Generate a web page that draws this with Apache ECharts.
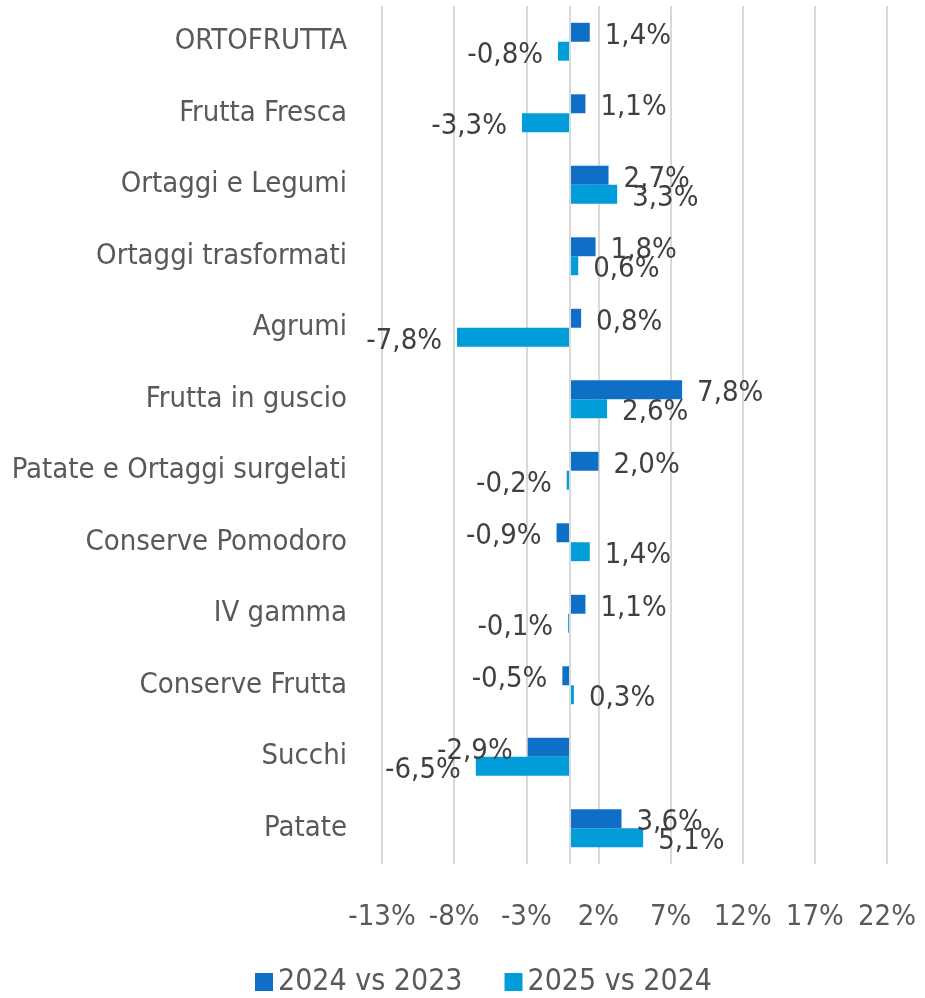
<!DOCTYPE html>
<html>
<head>
<meta charset="utf-8">
<script src="https://cdn.jsdelivr.net/npm/echarts@6/dist/echarts.min.js"></script>
<style>
  html, body { margin: 0; padding: 0; background: #fff; }
  #main { width: 925px; height: 998px; }
</style>
</head>
<body>
<div id="main"></div>
<script>
  // categorie (dall'alto in basso)
  var categories = ['ORTOFRUTTA', 'Frutta Fresca', 'Ortaggi e Legumi', 'Ortaggi trasformati', 'Agrumi',
    'Frutta in guscio', 'Patate e Ortaggi surgelati', 'Conserve Pomodoro', 'IV gamma', 'Conserve Frutta',
    'Succhi', 'Patate'];
  // variazioni %
  var var2024 = [1.4, 1.1, 2.7, 1.8, 0.8, 7.8, 2.0, -0.9, 1.1, -0.5, -2.9, 3.6];
  var var2025 = [-0.8, -3.3, 3.3, 0.6, -7.8, 2.6, -0.2, 1.4, -0.1, 0.3, -6.5, 5.1];
  var seriesNames = ['2024 vs 2023', '2025 vs 2024'];

  var FONT = "'Liberation Sans Narrow', 'Arial Narrow', 'DejaVu Sans Condensed', sans-serif";

  function fmt(v) {
    return v.toFixed(1).replace('.', ',') + '%';
  }
  // etichetta a destra per valori positivi, a sinistra per i negativi
  function toItems(arr) {
    return arr.map(function (v) {
      return { value: v, label: { position: v < 0 ? 'left' : 'right' } };
    });
  }

  var labelStyle = {
    show: true,
    distance: 15,
    offset: [0, 4],
    color: '#404040',
    fontFamily: FONT,
    fontSize: 29,
    formatter: function (p) { return fmt(p.value); }
  };

  var option = {
    animation: false,
    textStyle: { fontFamily: FONT },
    grid: { left: 382, right: 38, top: 6, bottom: 134, containLabel: false, outerBoundsMode: 'none' },
    legend: {
      data: seriesNames,
      left: 250,
      bottom: -4,
      icon: 'rect',
      itemWidth: 18,
      itemHeight: 18,
      itemGap: 42,
      textStyle: { color: '#595959', fontSize: 30, fontFamily: FONT }
    },
    xAxis: {
      type: 'value',
      min: -13,
      max: 22,
      interval: 5,
      axisLine: { show: false },
      axisTick: { show: false },
      splitLine: { lineStyle: { color: '#d9d9d9', width: 2 } },
      axisLabel: {
        margin: 39,
        color: '#595959',
        fontSize: 29,
        fontFamily: FONT,
        showMinLabel: true,
        showMaxLabel: true,
        hideOverlap: false,
        formatter: '{value}%'
      }
    },
    yAxis: {
      type: 'category',
      inverse: true,
      data: categories,
      axisLine: { show: false, onZero: false },
      axisTick: { show: false },
      axisLabel: { margin: 35, color: '#595959', fontSize: 29, fontFamily: FONT }
    },
    series: [
      {
        name: seriesNames[0],
        type: 'bar',
        barGap: '0%',
        barCategoryGap: '47%',
        itemStyle: { color: '#0F6FC6' },
        label: labelStyle,
        data: toItems(var2024),
        markLine: {
          silent: true,
          symbol: 'none',
          label: { show: false },
          lineStyle: { color: '#d9d9d9', width: 2, type: 'solid' },
          data: [{ xAxis: 0 }]
        }
      },
      {
        name: seriesNames[1],
        type: 'bar',
        itemStyle: { color: '#009DD9' },
        label: labelStyle,
        data: toItems(var2025)
      }
    ]
  };

  var myChart = echarts.init(document.getElementById('main'));
  myChart.setOption(option);
</script>
</body>
</html>
